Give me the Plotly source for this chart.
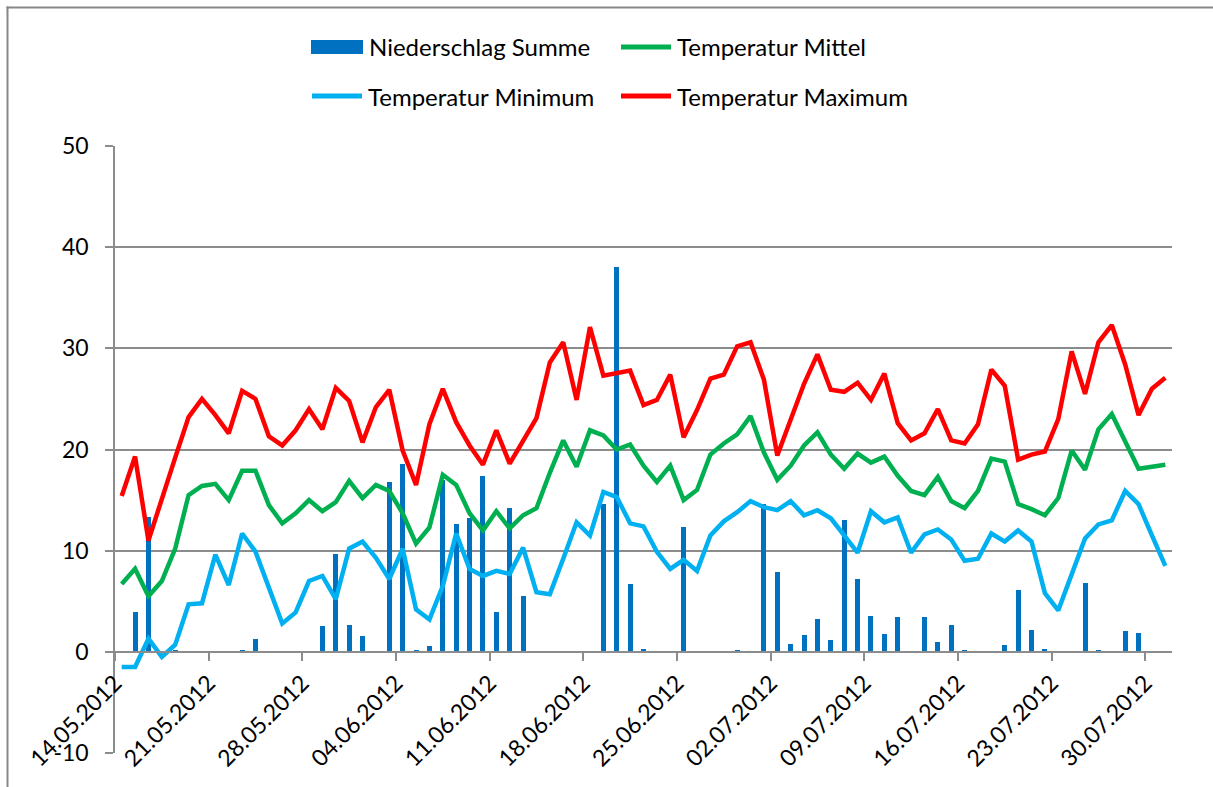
import pandas as pd
import plotly.graph_objects as go

# ---------------- data ----------------
dates = pd.date_range("2012-05-14", "2012-07-31", freq="D")

niederschlag_summe = [
    0.0, 3.9, 13.3, 0.0, 0.1, 0.0, 0.0, 0.0, 0.0, 0.1,
    1.3, 0.0, 0.0, 0.0, 0.0, 2.6, 9.7, 2.7, 1.6, 0.0,
    16.8, 18.6, 0.15, 0.6, 17.0, 12.6, 13.2, 17.4, 3.9, 14.2,
    5.5, 0.0, 0.0, 0.0, 0.0, 0.0, 14.6, 38.0, 6.7, 0.3,
    0.0, 0.0, 12.3, 0.0, 0.0, 0.0, 0.2, 0.0, 14.6, 7.9,
    0.8, 1.7, 3.2, 1.2, 13.0, 7.2, 3.5, 1.8, 3.4, 0.0,
    3.4, 1.0, 2.7, 0.1, 0.0, 0.0, 0.7, 6.1, 2.2, 0.3,
    0.0, 0.0, 6.8, 0.15, 0.0, 2.1, 1.9, 0.0, 0.0,
]

temperatur_mittel = [
    6.7, 8.2, 5.5, 7.0, 10.2, 15.5, 16.4, 16.6, 15.0, 17.9,
    17.9, 14.5, 12.7, 13.7, 15.0, 13.9, 14.8, 16.9, 15.2, 16.5,
    15.9, 13.7, 10.7, 12.3, 17.5, 16.5, 13.7, 12.0, 13.9, 12.2,
    13.5, 14.2, 17.7, 20.9, 18.3, 21.9, 21.4, 20.0, 20.5, 18.4,
    16.8, 18.4, 15.0, 16.0, 19.5, 20.6, 21.5, 23.3, 19.7, 17.0,
    18.4, 20.4, 21.7, 19.5, 18.1, 19.6, 18.7, 19.3, 17.4, 15.9,
    15.5, 17.3, 14.9, 14.2, 15.9, 19.1, 18.8, 14.6, 14.1, 13.5,
    15.2, 19.9, 18.0, 22.0, 23.5, 20.9, 18.1, 18.3, 18.5,
]

temperatur_minimum = [
    -1.5, -1.5, 1.3, -0.5, 0.7, 4.7, 4.8, 9.6, 6.6, 11.7,
    9.9, 6.2, 2.8, 3.9, 7.0, 7.5, 5.2, 10.2, 10.9, 9.3,
    7.2, 10.2, 4.2, 3.2, 6.5, 11.7, 8.2, 7.5, 8.0, 7.7,
    10.3, 5.9, 5.7, 9.2, 12.8, 11.5, 15.8, 15.3, 12.7, 12.4,
    9.9, 8.2, 9.1, 8.0, 11.5, 12.9, 13.8, 14.9, 14.3, 14.0,
    14.9, 13.5, 14.0, 13.2, 11.5, 9.8, 13.9, 12.8, 13.3, 9.8,
    11.6, 12.1, 11.1, 9.0, 9.2, 11.7, 10.9, 12.0, 10.9, 5.8,
    4.1, 7.7, 11.2, 12.6, 13.0, 15.9, 14.6, 11.5, 8.5,
]

temperatur_maximum = [
    15.4, 19.3, 11.0, 15.2, 19.2, 23.2, 25.0, 23.4, 21.6, 25.8,
    25.0, 21.3, 20.4, 21.9, 24.0, 22.0, 26.1, 24.8, 20.7, 24.2,
    25.9, 19.9, 16.5, 22.5, 26.0, 22.7, 20.4, 18.5, 21.9, 18.6,
    20.9, 23.1, 28.6, 30.6, 24.9, 32.1, 27.3, 27.5, 27.8, 24.4,
    24.9, 27.4, 21.2, 23.9, 27.0, 27.4, 30.2, 30.6, 26.9, 19.4,
    22.9, 26.5, 29.4, 25.9, 25.7, 26.6, 24.9, 27.5, 22.6, 20.9,
    21.6, 24.0, 20.9, 20.6, 22.5, 27.9, 26.3, 19.0, 19.5, 19.8,
    23.0, 29.7, 25.5, 30.6, 32.3, 28.4, 23.4, 26.0, 27.1,
]

y_ticks = [-10, 0, 10, 20, 30, 40, 50]
tick_dates = dates[::7]
tick_labels = [d.strftime("%d.%m.%Y") for d in tick_dates]

series_names = ["Niederschlag Summe", "Temperatur Mittel",
                "Temperatur Minimum", "Temperatur Maximum"]
C_BAR, C_MIT, C_MIN, C_MAX = "#0070C0", "#00B050", "#00B0F0", "#FF0000"

# ---------------- figure ----------------
FONT = "Lato"
GRID = "#8C8C8C"
W, H = 1213, 787
ML, MR, MT, MB = 115, 41, 146, 34
half = pd.Timedelta(hours=12)
day_ms = 86400000

fig = go.Figure()
fig.add_bar(x=dates, y=niederschlag_summe, name=series_names[0],
            marker=dict(color=C_BAR, line=dict(width=0)),
            width=0.37 * day_ms, showlegend=False)
fig.add_scatter(x=dates, y=temperatur_mittel, name=series_names[1], mode="lines",
                line=dict(color=C_MIT, width=4.5), showlegend=False)
fig.add_scatter(x=dates, y=temperatur_minimum, name=series_names[2], mode="lines",
                line=dict(color=C_MIN, width=4.5), showlegend=False)
fig.add_scatter(x=dates, y=temperatur_maximum, name=series_names[3], mode="lines",
                line=dict(color=C_MAX, width=4.5), showlegend=False)

fig.update_layout(
    width=W, height=H,
    margin=dict(l=ML, r=MR, t=MT, b=MB, pad=0),
    paper_bgcolor="white", plot_bgcolor="white",
    font=dict(family=FONT, color="black", size=22),
    bargap=0,
    xaxis=dict(
        type="date",
        range=[dates[0] - half, dates[-1] + half],
        tickvals=[d - half for d in tick_dates],
        ticktext=tick_labels,
        tickangle=-45,
        tickfont=dict(family=FONT, size=23, color="black"),
        ticks="outside", ticklen=8, tickwidth=1.5, tickcolor=GRID,
        showline=True, linecolor=GRID, linewidth=1.5,
        showgrid=False, zeroline=False,
        anchor="free", position=10 / 60,
    ),
    yaxis=dict(
        range=[-10, 50],
        tickvals=y_ticks,
        ticktext=[str(v) for v in y_ticks],
        tickfont=dict(family=FONT, size=23, color="black"),
        ticks="outside", ticklen=8, tickwidth=1.5, tickcolor=GRID,
        ticklabelstandoff=12,
        showline=True, linecolor=GRID, linewidth=1.5,
        showgrid=True, gridcolor=GRID, gridwidth=1.5,
        zeroline=False,
    ),
)

# helpers: pixel -> paper coords
pw, ph = W - ML - MR, H - MT - MB
def px(x):
    return (x - ML) / pw
def py(y):
    return (H - MB - y) / ph

# outer chart border (only top and left edges are inside the picture)
fig.add_shape(type="line", xref="paper", yref="paper",
              x0=px(6.5), x1=px(W), y0=py(7.5), y1=py(7.5),
              line=dict(color="#878787", width=2), layer="below")
fig.add_shape(type="line", xref="paper", yref="paper",
              x0=px(7.5), x1=px(7.5), y0=py(6.5), y1=py(H),
              line=dict(color="#878787", width=2), layer="below")

# manual legend (two rows, two columns)
legend_items = [
    (series_names[0], "bar", C_BAR, 311, 47),
    (series_names[1], "line", C_MIT, 619, 47),
    (series_names[2], "line", C_MIN, 310, 96),
    (series_names[3], "line", C_MAX, 619, 96),
]
for name, kind, color, x0, yc in legend_items:
    if kind == "bar":
        fig.add_shape(type="rect", xref="paper", yref="paper",
                      x0=px(x0), x1=px(x0 + 52), y0=py(yc - 7), y1=py(yc + 7),
                      line=dict(width=0), fillcolor=color)
    else:
        fig.add_shape(type="line", xref="paper", yref="paper",
                      x0=px(x0 + 2), x1=px(x0 + 52), y0=py(yc), y1=py(yc),
                      line=dict(color=color, width=5))
    fig.add_annotation(xref="paper", yref="paper", x=px(x0 + 56), y=py(yc),
                       xanchor="left", yanchor="middle", showarrow=False,
                       text=name, font=dict(family=FONT, size=24, color="black"))

fig.write_html("out.html",
               config={"displayModeBar": False},
               post_script=(
                   "var st=document.createElement('style');"
                   "st.textContent='html,body{margin:0;padding:0;overflow:hidden;"
                   "scrollbar-width:none;}::-webkit-scrollbar{display:none;}';"
                   "document.head.appendChild(st);"
               ))
